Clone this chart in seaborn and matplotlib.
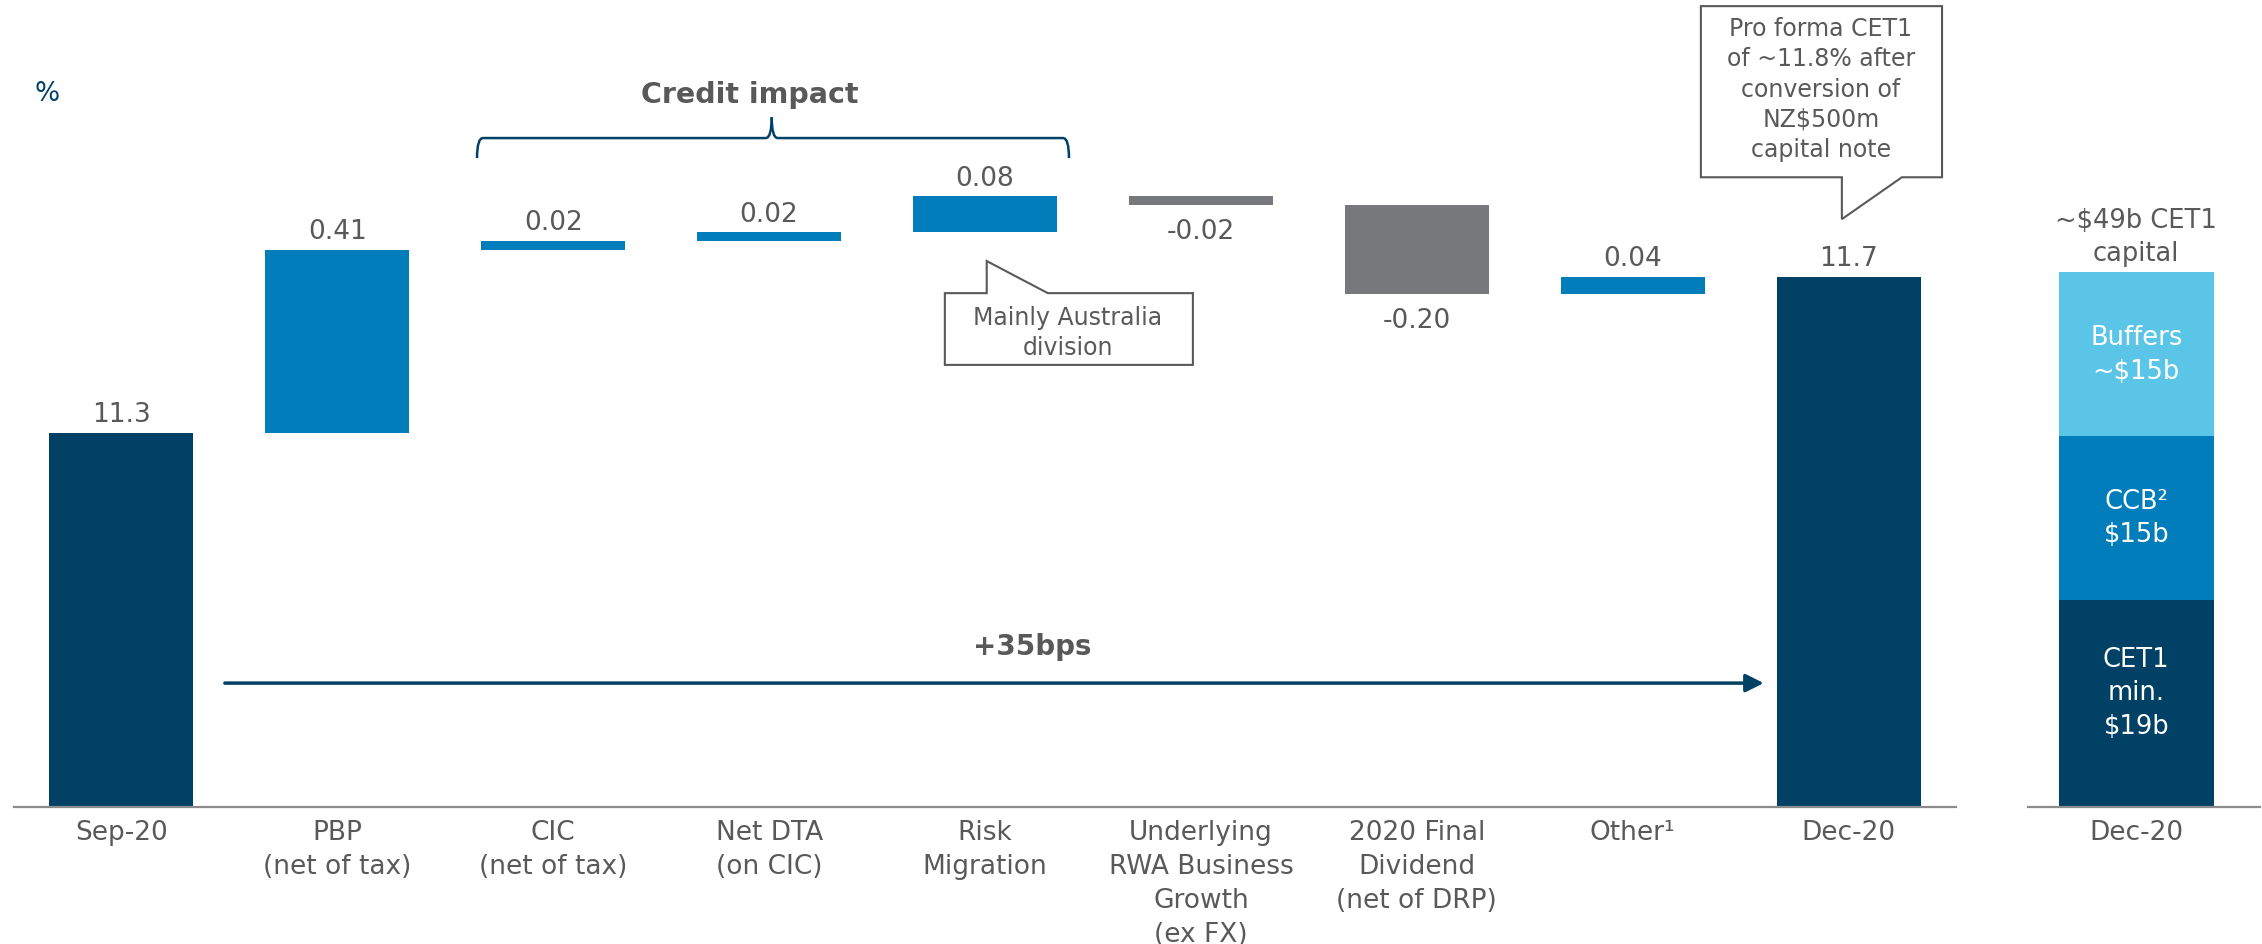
import matplotlib

matplotlib.use("Agg")
import matplotlib.pyplot as plt
import numpy as np
import pandas as pd
import seaborn as sns
from matplotlib.patches import Polygon, PathPatch
from matplotlib.path import Path

# waterfall data (% CET1)
categories = [
    "Sep-20",
    "PBP\n(net of tax)",
    "CIC\n(net of tax)",
    "Net DTA\n(on CIC)",
    "Risk\nMigration",
    "Underlying\nRWA Business\nGrowth\n(ex FX)",
    "2020 Final\nDividend\n(net of DRP)",
    "Other¹",
    "Dec-20",
]
start_value = 11.34
deltas = [0.41, 0.02, 0.02, 0.08, -0.02, -0.20, 0.04]

# Dec-20 capital stack ($b)
stack_labels = ["CET1\nmin.\n$19b", "CCB²\n$15b", "Buffers\n~$15b"]
stack_values = [19, 15, 15]

NAVY = "#004165"
BLUE = "#007DBA"
LIGHT = "#5BC5E8"
GREY_BAR = "#77787B"
TEXT = "#595959"
AXIS = "#8C8C8C"

sns.set_theme(style="white")
plt.rcParams["font.family"] = ["DejaVu Sans"]

W, H = 2262, 945
fig = plt.figure(figsize=(W / 100, H / 100), dpi=100)

# ---- main waterfall ----
ax = fig.add_axes([13.5 / W, 137 / H, 1943 / W, 808 / H])

end_value = start_value + sum(deltas)
running = start_value + np.concatenate([[0], np.cumsum(deltas)[:-1]])
bottoms = np.concatenate([[10.0], running, [10.0]])
heights = np.concatenate([[start_value - 10.0], deltas, [end_value - 10.0]])
colors = [NAVY] + [BLUE if d > 0 else GREY_BAR for d in deltas] + [NAVY]

df = pd.DataFrame({"step": categories, "height": heights})
sns.barplot(data=df, x="step", y="height", bottom=bottoms, color=NAVY,
            width=0.667, errorbar=None, saturation=1, ax=ax)
for patch, c in zip(ax.patches, colors):
    patch.set_facecolor(c)
    patch.set_edgecolor(c)
    patch.set_linewidth(0)

ax.set_xlim(-0.5, 8.5)
ax.set_ylim(10.50, 12.313)
ax.set_xlabel("")
ax.set_ylabel("")
ax.set_yticks([])
ax.tick_params(axis="x", length=0, pad=9, labelsize=19, labelcolor=TEXT)
for lbl in ax.get_xticklabels():
    lbl.set_linespacing(1.4)
for s in ["top", "right", "left"]:
    ax.spines[s].set_visible(False)
ax.spines["bottom"].set_color(AXIS)
ax.spines["bottom"].set_linewidth(1.6)

# value labels
values_all = [start_value] + deltas + [end_value]
for i, (b, h, v) in enumerate(zip(bottoms, heights, values_all)):
    txt = f"{v:.1f}" if i in (0, len(categories) - 1) else f"{v:.2f}"
    if h >= 0:
        ax.annotate(txt, (i, b + h), xytext=(0, 4), textcoords="offset points",
                    ha="center", va="bottom", fontsize=19, color=TEXT)
    else:
        ax.annotate(txt, (i, b + h), xytext=(0, -9), textcoords="offset points",
                    ha="center", va="top", fontsize=19, color=TEXT)

ax.text(-0.345, 12.102, "%", ha="center", va="center", fontsize=19, color=NAVY)

# credit impact brace
xl, xr, xc = 1.647, 4.389, 3.012
yb, yl, yt = 11.956, 12.001, 12.048
dx = 0.028
for xe, sgn in [(xl, 1), (xr, -1)]:
    verts = [(xe, yb), (xe, yl), (xe + sgn * dx, yl), (xc - sgn * dx, yl),
             (xc, yl), (xc, yt)]
    codes = [Path.MOVETO, Path.CURVE3, Path.CURVE3, Path.LINETO,
             Path.CURVE3, Path.CURVE3]
    ax.add_patch(PathPatch(Path(verts, codes), fill=False, edgecolor=NAVY,
                           linewidth=1.8, clip_on=False))
ax.text(2.911, 12.082, "Credit impact", ha="center", va="baseline",
        fontsize=20.5, fontweight="bold", color=TEXT)

# +35bps arrow
ax.annotate("", xy=(7.607, 10.778), xytext=(0.479, 10.778),
            arrowprops=dict(arrowstyle="-|>,head_length=0.9,head_width=0.45",
                            color=NAVY, lw=2.5, shrinkA=0, shrinkB=0))
ax.text(4.218, 10.861, "+35bps", ha="center", va="center", fontsize=20,
        fontweight="bold", color=TEXT)


def callout(box, pointer, text_xy, text):
    x0, x1, y0, y1, base_y = box
    pl, apex_y, pr = pointer
    if base_y == y1:
        verts = [(x0, y1), (pl, y1), (pl, apex_y), (pr, y1), (x1, y1), (x1, y0), (x0, y0)]
    else:
        verts = [(x0, y0), (pl, y0), (pl, apex_y), (pr, y0), (x1, y0), (x1, y1), (x0, y1)]
    ax.add_patch(Polygon(verts, closed=True, facecolor="white", edgecolor=TEXT,
                         linewidth=1.5, zorder=3))
    ax.text(*text_xy, text, ha="center", va="center", fontsize=17, color=TEXT,
            linespacing=1.33, zorder=4)


callout((3.814, 4.963, 11.492, 11.653, 11.653), (4.008, 11.725, 4.291),
        (4.384, 11.565), "Mainly Australia\ndivision")
callout((7.316, 8.433, 11.913, 12.297, 11.913), (7.969, 11.819, 8.247),
        (7.872, 12.112), "Pro forma CET1\nof ~11.8% after\nconversion of\nNZ$500m\ncapital note")

# ---- capital stack ----
ax2 = fig.add_axes([2028 / W, 137 / H, 232 / W, 808 / H])
stack_colors = [NAVY, BLUE, LIGHT]
stack_bottoms = np.concatenate([[0], np.cumsum(stack_values)[:-1]])
for k, (lab, val, bot, c) in enumerate(zip(stack_labels, stack_values, stack_bottoms, stack_colors)):
    sns.barplot(x=["Dec-20"], y=[val], bottom=bot, color=c, width=1.0,
                errorbar=None, saturation=1, linewidth=0, ax=ax2)
    lift = 8 if k == 0 else 0
    ax2.annotate(lab, (0, bot + val / 2), xytext=(0, lift), textcoords="offset points",
                 ha="center", va="center", fontsize=18.5, color="white",
                 linespacing=1.37)
total = sum(stack_values)
ax2.annotate(f"~${total}b CET1\ncapital", (0, total), xytext=(0, 4),
             textcoords="offset points", ha="center", va="bottom", fontsize=18.5,
             color=TEXT, linespacing=1.37)
ax2.set_xlim(-0.7, 0.8)
ax2.set_ylim(0, 74.0)
ax2.set_yticks([])
ax2.set_xlabel("")
ax2.set_ylabel("")
ax2.tick_params(axis="x", length=0, pad=9, labelsize=19, labelcolor=TEXT)
for s in ["top", "right", "left"]:
    ax2.spines[s].set_visible(False)
ax2.spines["bottom"].set_color(AXIS)
ax2.spines["bottom"].set_linewidth(1.6)

fig.savefig("out.png", dpi=100)
